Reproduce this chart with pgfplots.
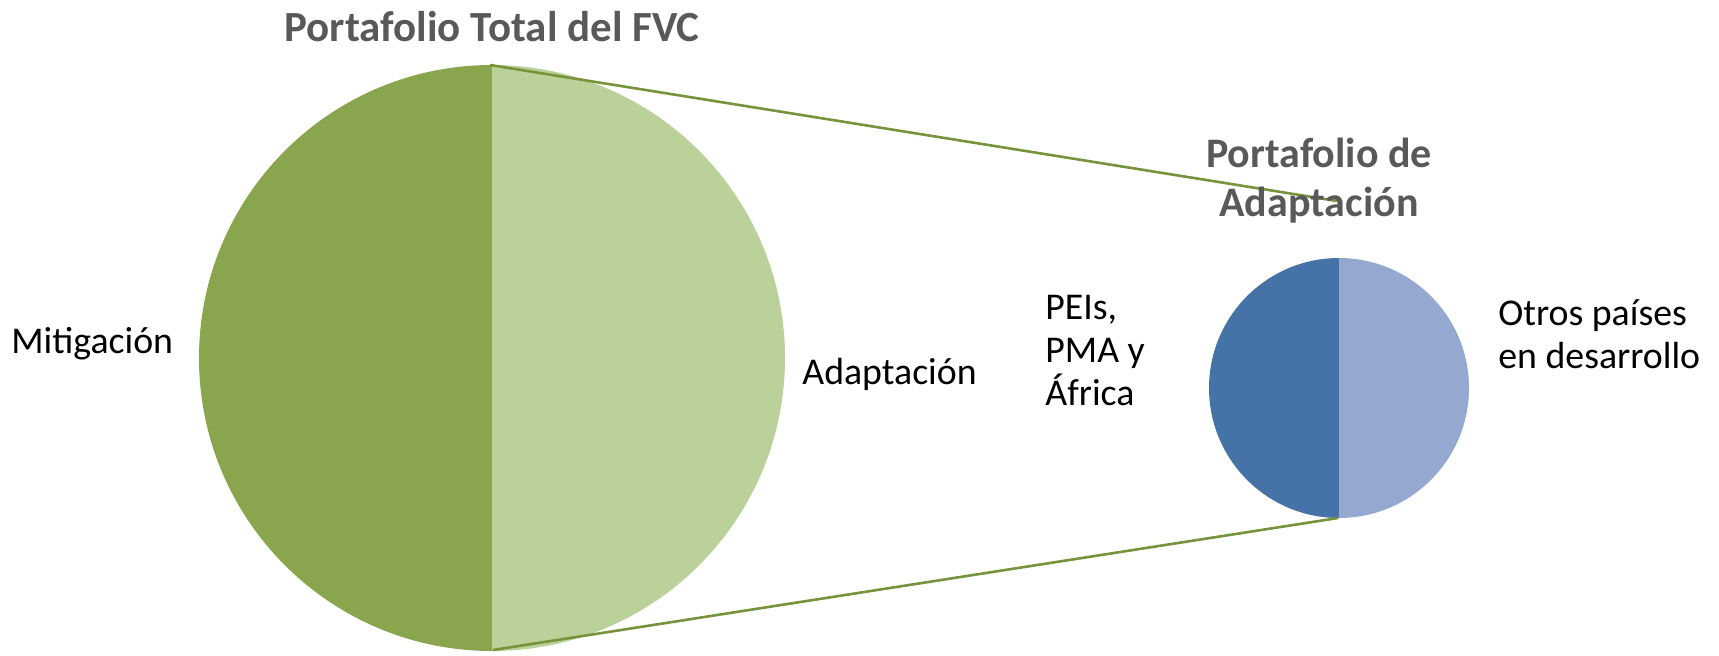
\documentclass[border=0pt]{standalone}
\usepackage{pgfplots}
\pgfplotsset{compat=1.18}
\usepackage{fontspec}
\setmainfont{Carlito}
\definecolor{mitig}{HTML}{89A54E}
\definecolor{adapt}{HTML}{BBD19A}
\definecolor{peis}{HTML}{4572A7}
\definecolor{otros}{HTML}{95A9D0}
\definecolor{conn}{HTML}{77933C}
\definecolor{ttl}{HTML}{595959}
% values (share of each portfolio, %)
\def\vMit{50}\def\vAda{50}
\def\vPei{50}\def\vOtr{50}
\pgfmathsetmacro\aMit{\vMit/(\vMit+\vAda)*360}
\pgfmathsetmacro\aAda{\vAda/(\vMit+\vAda)*360}
\pgfmathsetmacro\aPei{\vPei/(\vPei+\vOtr)*360}
\pgfmathsetmacro\aOtr{\vOtr/(\vPei+\vOtr)*360}
\begin{document}
\begin{tikzpicture}
\begin{axis}[
  x=0.5pt, y=0.5pt,
  xmin=0, xmax=1719, ymin=0, ymax=655,
  enlargelimits=false,
  hide axis, clip=false,
]
% main pie
\fill[mitig] (axis cs:492,297) -- ++(90:146.5pt) arc[start angle=90, end angle=90+\aMit, radius=146.5pt] -- cycle;
\fill[adapt] (axis cs:492,297) -- ++(90:146.5pt) arc[start angle=90, end angle=90-\aAda, radius=146.5pt] -- cycle;
% secondary pie
\fill[peis] (axis cs:1339,267) -- ++(90:65pt) arc[start angle=90, end angle=90+\aPei, radius=65pt] -- cycle;
\fill[otros] (axis cs:1339,267) -- ++(90:65pt) arc[start angle=90, end angle=90-\aOtr, radius=65pt] -- cycle;
% connector lines
\addplot[conn, line width=1.3pt, no marks] coordinates {(490,590) (1337,454)};
\addplot[conn, line width=1.3pt, no marks] coordinates {(493,5) (1338,137)};
% titles
\node[font=\bfseries\fontsize{21.5}{24}\selectfont, text=ttl] at (axis cs:492,628) {Portafolio Total del FVC};
\node[font=\bfseries\fontsize{21}{24.5}\selectfont, text=ttl, align=center] at (axis cs:1319,474) {Portafolio de\\Adaptación};
% labels
\node[font=\fontsize{18.9}{21.5}\selectfont, anchor=west, inner sep=0pt] at (axis cs:11,311) {Mitigación};
\node[font=\fontsize{18.9}{21.5}\selectfont, anchor=west, inner sep=0pt] at (axis cs:802,281) {Adaptación};
\node[font=\fontsize{18.9}{21.5}\selectfont, anchor=west, inner sep=0pt, align=left] at (axis cs:1045,304) {PEIs,\\PMA y\\África};
\node[font=\fontsize{18.9}{21.5}\selectfont, anchor=west, inner sep=0pt, align=left] at (axis cs:1498,321) {Otros países\\en desarrollo};
\end{axis}
\pgfresetboundingbox
\path (current axis.south west) rectangle (current axis.north east);
\end{tikzpicture}
\end{document}
